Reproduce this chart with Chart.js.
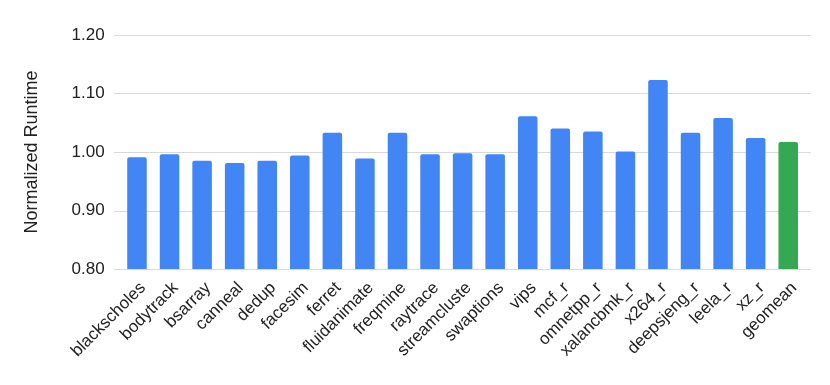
<!DOCTYPE html>
<html>
<head>
<meta charset="utf-8">
<script src="https://cdn.jsdelivr.net/npm/chart.js@4"></script>
<style>
  html, body { margin: 0; padding: 0; background: #fff; }
  #wrap { width: 830px; height: 385px; position: relative; }
</style>
</head>
<body>
<div id="wrap"><canvas id="c" width="830" height="385"></canvas></div>
<script>
const categories = ["blackscholes","bodytrack","bsarray","canneal","dedup","facesim","ferret","fluidanimate","freqmine","raytrace","streamcluste","swaptions","vips","mcf_r","omnetpp_r","xalancbmk_r","x264_r","deepsjeng_r","leela_r","xz_r","geomean"];
const runtimes = [0.991,0.996,0.985,0.981,0.985,0.994,1.033,0.989,1.033,0.996,0.998,0.996,1.061,1.040,1.035,1.001,1.123,1.033,1.058,1.024,1.017];
const yTicks = [0.80,0.90,1.00,1.10,1.20];
const yTitle = "Normalized Runtime";

const BLUE = "#4285F4", GREEN = "#34A853";
const colors = categories.map(c => c === "geomean" ? GREEN : BLUE);
const FONT = "'Liberation Sans', Arial, sans-serif";
const GRID_EXTEND = 6.5; // gridlines run a little past the outer bars' slots

// Gridlines drawn from the y scale's tick pixels, slightly wider than the chart area
const wideGrid = {
  id: 'wideGrid',
  beforeDatasetsDraw(chart) {
    const { ctx, chartArea, scales: { y } } = chart;
    ctx.save();
    ctx.strokeStyle = '#d9d9d9';
    ctx.lineWidth = 1;
    yTicks.forEach(v => {
      const py = Math.round(y.getPixelForValue(v)) + 0.5;
      ctx.beginPath();
      ctx.moveTo(chartArea.left - GRID_EXTEND, py);
      ctx.lineTo(chartArea.right + GRID_EXTEND, py);
      ctx.stroke();
    });
    ctx.restore();
  }
};

new Chart(document.getElementById('c'), {
  type: 'bar',
  data: {
    labels: categories,
    datasets: [{
      data: runtimes,
      backgroundColor: colors,
      borderWidth: 0,
      borderRadius: 2,
      barPercentage: 0.6,
      categoryPercentage: 1.0
    }]
  },
  options: {
    responsive: false,
    animation: false,
    devicePixelRatio: 1,
    layout: { padding: { top: 35, right: 25.5, left: 0, bottom: 0 } },
    plugins: { legend: { display: false }, tooltip: { enabled: false } },
    scales: {
      x: {
        grid: { display: false },
        border: { display: false },
        ticks: {
          color: '#222',
          font: { family: FONT, size: 17 },
          minRotation: 45, maxRotation: 45,
          autoSkip: false,
          padding: 1,
          labelOffset: 6
        },
        afterFit: s => { s.height = 116; }
      },
      y: {
        min: yTicks[0], max: yTicks[yTicks.length - 1],
        afterBuildTicks: s => { s.ticks = yTicks.map(v => ({ value: v })); },
        grid: { display: false, drawTicks: false },
        border: { display: false },
        ticks: {
          color: '#222',
          font: { family: FONT, size: 17 },
          padding: 16,
          callback: v => Number(v).toFixed(2)
        },
        title: {
          display: true,
          text: yTitle,
          color: '#222',
          font: { family: FONT, size: 18 },
          padding: { top: 21, bottom: 0 }
        },
        afterFit: s => { s.width = 120.7; }
      }
    }
  },
  plugins: [wideGrid]
});
</script>
</body>
</html>
